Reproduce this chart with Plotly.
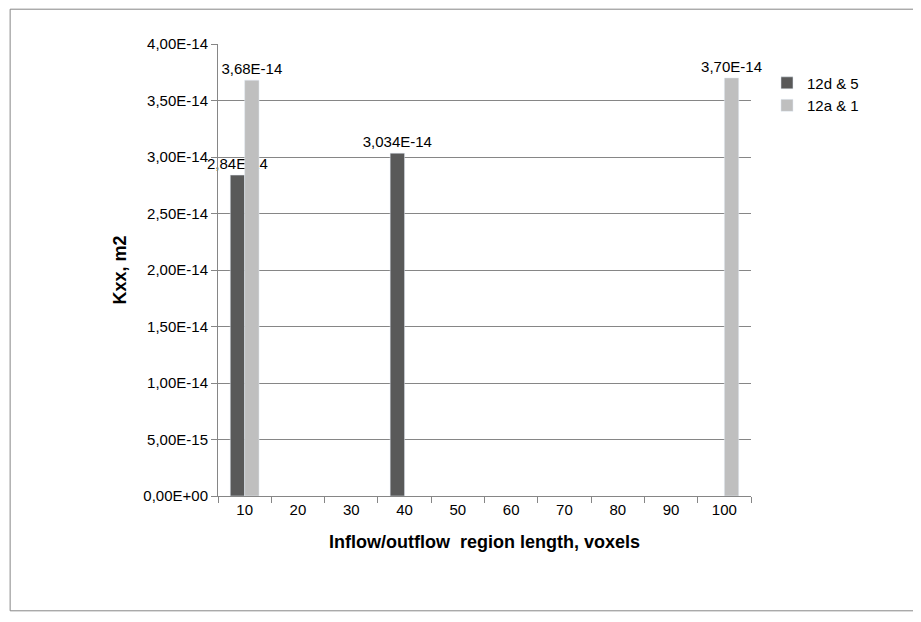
import plotly.graph_objects as go

categories = ["10", "20", "30", "40", "50", "60", "70", "80", "90", "100"]
dark_vals = [2.84e-14, None, None, 3.034e-14, None, None, None, None, None, None]
dark_text = ["2,84E-14", "", "", "3,034E-14", "", "", "", "", "", ""]
light_vals = [3.68e-14, None, None, None, None, None, None, None, None, 3.70e-14]
light_text = ["3,68E-14", "", "", "", "", "", "", "", "", "3,70E-14"]
tick_vals = [0, 5e-15, 1e-14, 1.5e-14, 2e-14, 2.5e-14, 3e-14, 3.5e-14, 4e-14]
tick_text = ["0,00E+00", "5,00E-15", "1,00E-14", "1,50E-14", "2,00E-14",
             "2,50E-14", "3,00E-14", "3,50E-14", "4,00E-14"]

font = dict(family="Liberation Sans, Arial", size=15, color="#000")

fig = go.Figure()
fig.add_trace(go.Bar(x=categories, y=dark_vals, name="12d & 5", marker_color="#595959",
                     text=dark_text, textposition="outside", cliponaxis=False,
                     constraintext="none", textfont=font))
fig.add_trace(go.Bar(x=categories, y=light_vals, name="12a & 1", marker_color="#bfbfbf",
                     text=light_text, textposition="outside", cliponaxis=False,
                     constraintext="none", textfont=font))

fig.update_layout(
    width=921, height=622,
    margin=dict(l=210, r=178, t=36, b=134),
    paper_bgcolor="white", plot_bgcolor="white",
    barmode="group", bargap=0.46, bargroupgap=0,
    font=font,
    legend=dict(x=1.03, y=0.95, xanchor="left", yanchor="top",
                font=dict(family="Liberation Sans, Arial", size=15), tracegroupgap=6),
    xaxis=dict(title=dict(text="<b>Inflow/outflow  region length, voxels</b>", standoff=18),
               showline=True, linecolor="#868686", ticks="outside", ticklen=6,
               tickcolor="#868686", tickson="boundaries"),
    yaxis=dict(title=dict(text="<b>Kxx, m2</b>", standoff=12),
               range=[0, 4e-14], tickvals=tick_vals, ticktext=tick_text,
               showgrid=True, gridcolor="#868686", showline=True, linecolor="#868686",
               ticks="outside", ticklen=6, tickcolor="#868686", zeroline=False),
    shapes=[dict(type="rect", xref="paper", yref="paper",
                 x0=-0.39, x1=1.305, y0=-0.254, y1=1.077,
                 line=dict(color="#868686", width=1))],
)
fig.write_html("out.html")
